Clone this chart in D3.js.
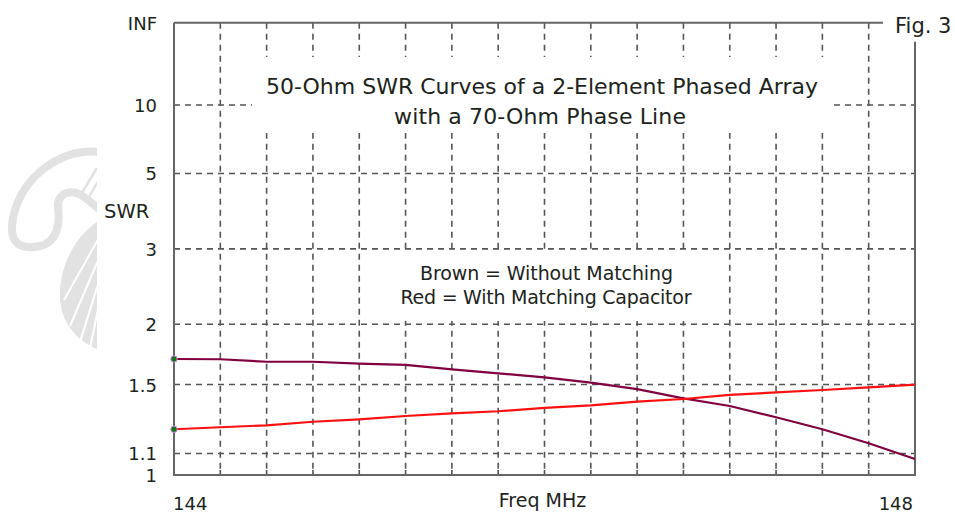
<!DOCTYPE html>
<html><head><meta charset="utf-8">
<script src="https://cdn.jsdelivr.net/npm/d3@7"></script>
<style>
html,body{margin:0;padding:0;background:#fff;}
svg{display:block;font-family:"DejaVu Sans",Verdana,sans-serif;}
</style></head><body>
<svg id="chart" width="955" height="514"></svg>
<script>
// Frequency points, MHz (0.25 MHz steps)
const freqs = [144, 144.25, 144.5, 144.75, 145, 145.25, 145.5, 145.75, 146,
               146.25, 146.5, 146.75, 147, 147.25, 147.5, 147.75, 148];
// SWR without matching (brown curve)
const swrBrown = [1.690, 1.688, 1.668, 1.668, 1.653, 1.643, 1.610, 1.580, 1.551,
                  1.513, 1.469, 1.408, 1.360, 1.293, 1.225, 1.151, 1.073];
// SWR with matching capacitor (red curve)
const swrRed = [1.225, 1.236, 1.247, 1.267, 1.281, 1.300, 1.316, 1.328, 1.348,
                1.364, 1.387, 1.404, 1.430, 1.447, 1.463, 1.481, 1.499];
// SWR axis ticks and their labels
const swrTicks = [Infinity, 10, 5, 3, 2, 1.5, 1.1, 1];
const swrTickLabels = ["INF", "10", "5", "3", "2", "1.5", "1.1", "1"];
// Frequency axis labels
const freqLabelValues = [144, 148];

const svg = d3.select("#chart");
const L = 174, R = 915, T = 22.7, B = 475;

// SWR is plotted on a reflection-coefficient scale: rho = (s-1)/(s+1)
const rho = s => (s === Infinity ? 1 : (s - 1) / (s + 1));
const x = d3.scaleLinear().domain([144, 148]).range([L, R]);
const yr = d3.scaleLinear().domain([0, 1]).range([B, T]);
const y = s => yr(rho(s));

// faint logo in the left margin
const defs = svg.append("defs");
defs.append("clipPath").attr("id", "logoClip")
  .append("rect").attr("x", 0).attr("y", 0).attr("width", 97).attr("height", 514);
const logo = svg.append("g").attr("clip-path", "url(#logoClip)");
const lc = "#e2e2e2";
logo.append("path")
  .attr("d", "M100,152 C62,148 22,175 13,218 C8,245 22,250 40,246 C58,242 60,222 58,208 C57,196 66,190 76,193 C86,196 92,204 100,210")
  .attr("fill", "none").attr("stroke", lc).attr("stroke-width", 8).attr("stroke-linecap", "round");
logo.append("path")
  .attr("d", "M100,220 C80,232 62,258 60,290 C58,320 76,342 100,350 Z")
  .attr("fill", lc);
[[100, 236, 64, 300], [100, 256, 70, 326], [100, 278, 80, 342], [100, 300, 90, 348]].forEach(p => {
  logo.append("line").attr("x1", p[0]).attr("y1", p[1]).attr("x2", p[2]).attr("y2", p[3])
    .attr("stroke", "#fff").attr("stroke-width", 2);
});
logo.append("path").attr("d", "M97,168 L80,196 M100,178 L86,202")
  .attr("stroke", lc).attr("stroke-width", 2.5).attr("fill", "none");

// grid
const gridColor = "#555";
const grid = svg.append("g").attr("stroke", gridColor).attr("stroke-width", 1.6)
  .attr("stroke-dasharray", "6,5");
grid.selectAll("line.h").data(swrTicks.filter(s => s !== Infinity && s !== 1))
  .join("line").attr("class", "h")
  .attr("x1", L).attr("x2", R).attr("y1", d => y(d)).attr("y2", d => y(d));
grid.selectAll("line.v").data(freqs.slice(1, -1))
  .join("line").attr("class", "v")
  .attr("x1", d => x(d)).attr("x2", d => x(d)).attr("y1", T).attr("y2", B);

// white panels behind the title and the legend text
svg.append("rect").attr("x", 252).attr("y", 57).attr("width", 582).attr("height", 76).attr("fill", "#fff");
svg.append("rect").attr("x", 386).attr("y", 253).attr("width", 318).attr("height", 68).attr("fill", "#fff");

// bottom axis ticks
svg.append("g").attr("stroke", gridColor).attr("stroke-width", 1.6)
  .selectAll("line").data(freqs.slice(1, -1)).join("line")
  .attr("x1", d => x(d)).attr("x2", d => x(d)).attr("y1", B).attr("y2", B - 5);

// frame
const frame = svg.append("g").attr("stroke", "#666").attr("stroke-width", 2).attr("fill", "none");
frame.append("path").attr("d", `M${L},${T} L${L},${B} L${R},${B} L${R},${T + 19}`);
frame.append("path").attr("d", `M${L},${T} L${R - 32},${T}`);

// curves
const line = d3.line().x((d, i) => x(freqs[i])).y(d => y(d));
svg.append("path").datum(swrBrown).attr("d", line)
  .attr("fill", "none").attr("stroke", "#800040").attr("stroke-width", 2.2);
svg.append("path").datum(swrRed).attr("d", line)
  .attr("fill", "none").attr("stroke", "#ff1010").attr("stroke-width", 2.2);

// start markers
svg.selectAll("circle.m").data([swrBrown[0], swrRed[0]]).join("circle")
  .attr("class", "m").attr("cx", x(freqs[0])).attr("cy", d => y(d)).attr("r", 3.2)
  .attr("fill", "#0a7a1a").attr("stroke", "#e080e0").attr("stroke-width", 1);

// text
const txt = "#1c241c";
svg.append("g").selectAll("text").data(swrTicks).join("text")
  .attr("x", 157).attr("y", d => y(d) + 7)
  .attr("text-anchor", "end").attr("font-size", 18).attr("fill", txt)
  .text((d, i) => swrTickLabels[i]);

svg.append("text").attr("x", 104).attr("y", 218).attr("font-size", 19.5).attr("fill", txt).text("SWR");

svg.append("g").selectAll("text").data(freqLabelValues).join("text")
  .attr("x", (d, i) => (i === 0 ? x(d) - 1 : x(d) - 2))
  .attr("y", 510)
  .attr("text-anchor", (d, i) => (i === 0 ? "start" : "end"))
  .attr("font-size", 18).attr("fill", txt).text(d => d);

svg.append("text").attr("x", 542.5).attr("y", 507).attr("text-anchor", "middle")
  .attr("font-size", 19).attr("fill", txt).text("Freq MHz");

svg.append("text").attr("x", 895).attr("y", 33).attr("font-size", 21).attr("fill", txt).text("Fig. 3");

svg.append("text").attr("x", 542).attr("y", 94).attr("text-anchor", "middle")
  .attr("font-size", 22).attr("fill", txt)
  .attr("textLength", 552).attr("lengthAdjust", "spacing")
  .text("50-Ohm SWR Curves of a 2-Element Phased Array");
svg.append("text").attr("x", 540).attr("y", 123.5).attr("text-anchor", "middle")
  .attr("font-size", 22).attr("fill", txt)
  .attr("textLength", 292).attr("lengthAdjust", "spacing")
  .text("with a 70-Ohm Phase Line");

svg.append("text").attr("x", 546.5).attr("y", 280).attr("text-anchor", "middle")
  .attr("font-size", 19).attr("fill", txt)
  .attr("textLength", 253).attr("lengthAdjust", "spacing")
  .text("Brown = Without Matching");
svg.append("text").attr("x", 546).attr("y", 304).attr("text-anchor", "middle")
  .attr("font-size", 19).attr("fill", txt)
  .attr("textLength", 291).attr("lengthAdjust", "spacing")
  .text("Red = With Matching Capacitor");
</script>
</body></html>
